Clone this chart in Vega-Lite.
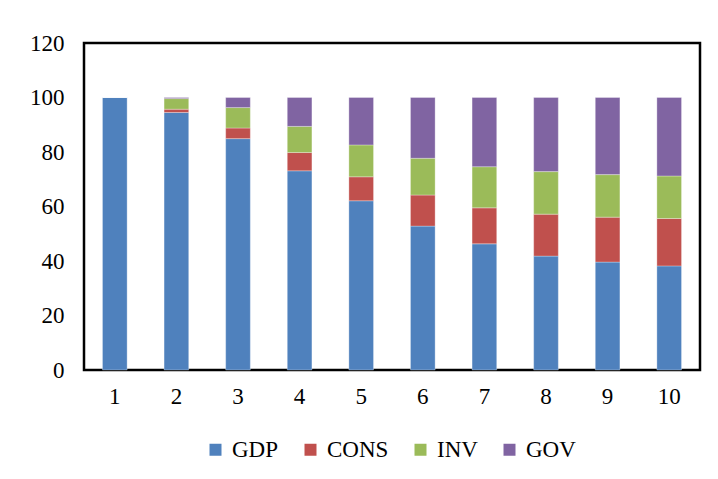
{
  "$schema": "https://vega.github.io/schema/vega-lite/v6.json",
  "autosize": "none",
  "padding": {"left": 84, "top": 43, "right": 18, "bottom": 109},
  "width": 616,
  "height": 327,
  "background": "white",
  "data": {"values": [
    {"period": "1", "series": "GDP", "value": 100},
    {"period": "1", "series": "CONS", "value": 0},
    {"period": "1", "series": "INV", "value": 0},
    {"period": "1", "series": "GOV", "value": 0},
    {"period": "2", "series": "GDP", "value": 94.5},
    {"period": "2", "series": "CONS", "value": 1.2},
    {"period": "2", "series": "INV", "value": 3.9},
    {"period": "2", "series": "GOV", "value": 0.4},
    {"period": "3", "series": "GDP", "value": 84.9},
    {"period": "3", "series": "CONS", "value": 3.9},
    {"period": "3", "series": "INV", "value": 7.5},
    {"period": "3", "series": "GOV", "value": 3.7},
    {"period": "4", "series": "GDP", "value": 73.1},
    {"period": "4", "series": "CONS", "value": 6.7},
    {"period": "4", "series": "INV", "value": 9.6},
    {"period": "4", "series": "GOV", "value": 10.6},
    {"period": "5", "series": "GDP", "value": 62.1},
    {"period": "5", "series": "CONS", "value": 8.8},
    {"period": "5", "series": "INV", "value": 11.7},
    {"period": "5", "series": "GOV", "value": 17.4},
    {"period": "6", "series": "GDP", "value": 52.8},
    {"period": "6", "series": "CONS", "value": 11.4},
    {"period": "6", "series": "INV", "value": 13.5},
    {"period": "6", "series": "GOV", "value": 22.3},
    {"period": "7", "series": "GDP", "value": 46.3},
    {"period": "7", "series": "CONS", "value": 13.2},
    {"period": "7", "series": "INV", "value": 15.1},
    {"period": "7", "series": "GOV", "value": 25.4},
    {"period": "8", "series": "GDP", "value": 41.8},
    {"period": "8", "series": "CONS", "value": 15.4},
    {"period": "8", "series": "INV", "value": 15.6},
    {"period": "8", "series": "GOV", "value": 27.2},
    {"period": "9", "series": "GDP", "value": 39.6},
    {"period": "9", "series": "CONS", "value": 16.5},
    {"period": "9", "series": "INV", "value": 15.6},
    {"period": "9", "series": "GOV", "value": 28.3},
    {"period": "10", "series": "GDP", "value": 38.2},
    {"period": "10", "series": "CONS", "value": 17.4},
    {"period": "10", "series": "INV", "value": 15.6},
    {"period": "10", "series": "GOV", "value": 28.8}
  ]},
  "transform": [
    {"calculate": "indexof(['GDP','CONS','INV','GOV'], datum.series)", "as": "stackOrder"}
  ],
  "mark": {"type": "bar", "stroke": "#ffffff", "strokeOpacity": 0.5, "strokeWidth": 0.6},
  "encoding": {
    "x": {
      "field": "period", "type": "ordinal",
      "sort": ["1","2","3","4","5","6","7","8","9","10"],
      "scale": {"paddingInner": 0.6, "paddingOuter": 0.3},
      "axis": {"title": null, "labelAngle": 0, "ticks": false, "domain": false, "labelPadding": 15, "grid": false}
    },
    "y": {
      "field": "value", "type": "quantitative", "stack": "zero",
      "scale": {"domain": [0, 120], "nice": false},
      "axis": {"title": null, "values": [0,20,40,60,80,100,120], "ticks": false, "domain": false, "grid": false, "labelPadding": 20}
    },
    "order": {"field": "stackOrder", "type": "quantitative", "sort": "ascending"},
    "color": {
      "field": "series", "type": "nominal",
      "sort": ["GDP","CONS","INV","GOV"],
      "scale": {"domain": ["GDP","CONS","INV","GOV"], "range": ["#4F81BD","#C0504D","#9BBB59","#8064A2"]},
      "legend": {"title": null, "orient": "none", "legendX": 120, "legendY": 395, "direction": "horizontal", "symbolType": "square", "symbolSize": 144, "symbolStrokeWidth": 0, "columnPadding": 20, "labelOffset": 5}
    }
  },
  "config": {
    "font": "Liberation Serif",
    "view": {"stroke": "#000000", "strokeWidth": 2.5},
    "axis": {"labelFont": "Liberation Serif", "labelFontSize": 23, "labelColor": "#000000"},
    "legend": {"labelFont": "Liberation Serif", "labelFontSize": 23, "labelColor": "#000000"}
  }
}
